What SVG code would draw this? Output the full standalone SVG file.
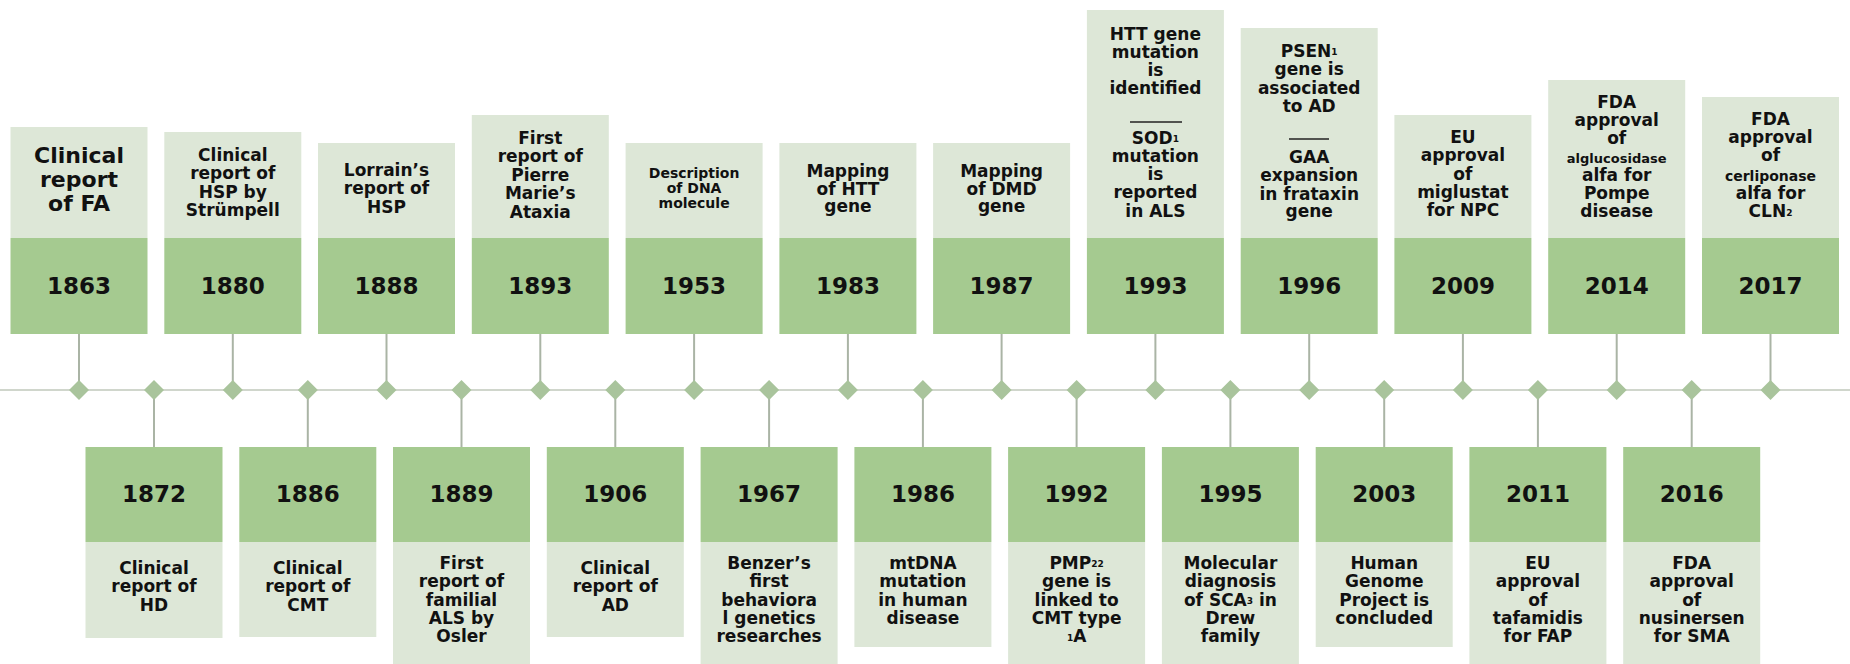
<svg xmlns="http://www.w3.org/2000/svg" width="1850" height="664" viewBox="0 0 1850 664">
<defs>
<style>
.lt{fill:#dde7d7}
.dk{fill:#a5ca90}
.ax{stroke:#d0d6cc;stroke-width:2;fill:none}
.cn{stroke:#aab4a5;stroke-width:2;fill:none}
.dm{fill:#a9c49c}
.rule{stroke:#222;stroke-width:1.6}
text{font-family:"DejaVu Sans","Liberation Sans",sans-serif;font-weight:bold;fill:#111;text-anchor:middle}
.yr{font-size:23px}
.tx{font-size:17px}
.big{font-size:22px}
.sm{font-size:14px}
.xs{font-size:13px}
.sub{font-size:9px}
</style>
<path id="dia" d="M0,-10 L10,0 L0,10 L-10,0 Z"/>
</defs>
<rect width="1850" height="664" fill="#ffffff"/>

<g id="connectors">
<line class="ax" x1="0" y1="390" x2="1850" y2="390"/>
<line class="cn" x1="79" y1="334" x2="79" y2="390"/>
<line class="cn" x1="232.8" y1="334" x2="232.8" y2="390"/>
<line class="cn" x1="386.5" y1="334" x2="386.5" y2="390"/>
<line class="cn" x1="540.3" y1="334" x2="540.3" y2="390"/>
<line class="cn" x1="694.1" y1="334" x2="694.1" y2="390"/>
<line class="cn" x1="847.9" y1="334" x2="847.9" y2="390"/>
<line class="cn" x1="1001.6" y1="334" x2="1001.6" y2="390"/>
<line class="cn" x1="1155.4" y1="334" x2="1155.4" y2="390"/>
<line class="cn" x1="1309.2" y1="334" x2="1309.2" y2="390"/>
<line class="cn" x1="1462.9" y1="334" x2="1462.9" y2="390"/>
<line class="cn" x1="1616.7" y1="334" x2="1616.7" y2="390"/>
<line class="cn" x1="1770.5" y1="334" x2="1770.5" y2="390"/>
<line class="cn" x1="154" y1="390" x2="154" y2="447"/>
<line class="cn" x1="307.8" y1="390" x2="307.8" y2="447"/>
<line class="cn" x1="461.5" y1="390" x2="461.5" y2="447"/>
<line class="cn" x1="615.3" y1="390" x2="615.3" y2="447"/>
<line class="cn" x1="769.1" y1="390" x2="769.1" y2="447"/>
<line class="cn" x1="922.9" y1="390" x2="922.9" y2="447"/>
<line class="cn" x1="1076.6" y1="390" x2="1076.6" y2="447"/>
<line class="cn" x1="1230.4" y1="390" x2="1230.4" y2="447"/>
<line class="cn" x1="1384.2" y1="390" x2="1384.2" y2="447"/>
<line class="cn" x1="1537.9" y1="390" x2="1537.9" y2="447"/>
<line class="cn" x1="1691.7" y1="390" x2="1691.7" y2="447"/>
<use href="#dia" class="dm" x="79" y="390"/>
<use href="#dia" class="dm" x="154" y="390"/>
<use href="#dia" class="dm" x="232.8" y="390"/>
<use href="#dia" class="dm" x="307.8" y="390"/>
<use href="#dia" class="dm" x="386.5" y="390"/>
<use href="#dia" class="dm" x="461.5" y="390"/>
<use href="#dia" class="dm" x="540.3" y="390"/>
<use href="#dia" class="dm" x="615.3" y="390"/>
<use href="#dia" class="dm" x="694.1" y="390"/>
<use href="#dia" class="dm" x="769.1" y="390"/>
<use href="#dia" class="dm" x="847.9" y="390"/>
<use href="#dia" class="dm" x="922.9" y="390"/>
<use href="#dia" class="dm" x="1001.6" y="390"/>
<use href="#dia" class="dm" x="1076.6" y="390"/>
<use href="#dia" class="dm" x="1155.4" y="390"/>
<use href="#dia" class="dm" x="1230.4" y="390"/>
<use href="#dia" class="dm" x="1309.2" y="390"/>
<use href="#dia" class="dm" x="1384.2" y="390"/>
<use href="#dia" class="dm" x="1462.9" y="390"/>
<use href="#dia" class="dm" x="1537.9" y="390"/>
<use href="#dia" class="dm" x="1616.7" y="390"/>
<use href="#dia" class="dm" x="1691.7" y="390"/>
<use href="#dia" class="dm" x="1770.5" y="390"/>
</g>

<!-- Top row -->
<g id="n1863">
<rect class="lt" x="10.5" y="127" width="137" height="111"/>
<rect class="dk" x="10.5" y="238" width="137" height="96"/>
<text class="big"><tspan x="79" y="163">Clinical</tspan><tspan x="79" y="187">report</tspan><tspan x="79" y="211">of FA</tspan></text>
<text class="yr" x="79" y="294">1863</text>
</g>
<g id="n1880">
<rect class="lt" x="164.3" y="132" width="137" height="106"/>
<rect class="dk" x="164.3" y="238" width="137" height="96"/>
<text class="tx"><tspan x="232.8" y="161">Clinical</tspan><tspan x="232.8" y="179.3">report of</tspan><tspan x="232.8" y="197.6">HSP by</tspan><tspan x="232.8" y="216">Strümpell</tspan></text>
<text class="yr" x="232.8" y="294">1880</text>
</g>
<g id="n1888">
<rect class="lt" x="318" y="143" width="137" height="95"/>
<rect class="dk" x="318" y="238" width="137" height="96"/>
<text class="tx"><tspan x="386.5" y="176">Lorrain’s</tspan><tspan x="386.5" y="194.3">report of</tspan><tspan x="386.5" y="212.6">HSP</tspan></text>
<text class="yr" x="386.5" y="294">1888</text>
</g>
<g id="n1893">
<rect class="lt" x="471.8" y="115" width="137" height="123"/>
<rect class="dk" x="471.8" y="238" width="137" height="96"/>
<text class="tx"><tspan x="540.3" y="144">First</tspan><tspan x="540.3" y="162.4">report of</tspan><tspan x="540.3" y="180.8">Pierre</tspan><tspan x="540.3" y="199.2">Marie’s</tspan><tspan x="540.3" y="217.6">Ataxia</tspan></text>
<text class="yr" x="540.3" y="294">1893</text>
</g>
<g id="n1953">
<rect class="lt" x="625.6" y="143" width="137" height="95"/>
<rect class="dk" x="625.6" y="238" width="137" height="96"/>
<text class="sm"><tspan x="694.1" y="178">Description</tspan><tspan x="694.1" y="193">of DNA</tspan><tspan x="694.1" y="208">molecule</tspan></text>
<text class="yr" x="694.1" y="294">1953</text>
</g>
<g id="n1983">
<rect class="lt" x="779.4" y="143" width="137" height="95"/>
<rect class="dk" x="779.4" y="238" width="137" height="96"/>
<text class="tx"><tspan x="847.9" y="177">Mapping</tspan><tspan x="847.9" y="195">of HTT</tspan><tspan x="847.9" y="212">gene</tspan></text>
<text class="yr" x="847.9" y="294">1983</text>
</g>
<g id="n1987">
<rect class="lt" x="933.1" y="143" width="137" height="95"/>
<rect class="dk" x="933.1" y="238" width="137" height="96"/>
<text class="tx"><tspan x="1001.6" y="177">Mapping</tspan><tspan x="1001.6" y="195">of DMD</tspan><tspan x="1001.6" y="212">gene</tspan></text>
<text class="yr" x="1001.6" y="294">1987</text>
</g>
<g id="n1993">
<rect class="lt" x="1086.9" y="10" width="137" height="228"/>
<rect class="dk" x="1086.9" y="238" width="137" height="96"/>
<text class="tx"><tspan x="1155.4" y="39.5">HTT gene</tspan><tspan x="1155.4" y="57.8">mutation</tspan><tspan x="1155.4" y="76">is</tspan><tspan x="1155.4" y="94.4">identified</tspan></text>
<line class="rule" x1="1130" y1="122" x2="1182" y2="122"/>
<text class="tx"><tspan x="1155.4" y="143.5">SOD<tspan class="sub" dy="-2">1</tspan></tspan><tspan x="1155.4" y="161.8">mutation</tspan><tspan x="1155.4" y="180">is</tspan><tspan x="1155.4" y="198.4">reported</tspan><tspan x="1155.4" y="216.7">in ALS</tspan></text>
<text class="yr" x="1155.4" y="294">1993</text>
</g>
<g id="n1996">
<rect class="lt" x="1240.7" y="28" width="137" height="210"/>
<rect class="dk" x="1240.7" y="238" width="137" height="96"/>
<text class="tx"><tspan x="1309.2" y="57">PSEN<tspan class="sub" dy="-2">1</tspan></tspan><tspan x="1309.2" y="75.3">gene is</tspan><tspan x="1309.2" y="93.6">associated</tspan><tspan x="1309.2" y="112">to AD</tspan></text>
<line class="rule" x1="1289" y1="139" x2="1329" y2="139"/>
<text class="tx"><tspan x="1309.2" y="163">GAA</tspan><tspan x="1309.2" y="181.3">expansion</tspan><tspan x="1309.2" y="199.6">in frataxin</tspan><tspan x="1309.2" y="217">gene</tspan></text>
<text class="yr" x="1309.2" y="294">1996</text>
</g>
<g id="n2009">
<rect class="lt" x="1394.4" y="115" width="137" height="123"/>
<rect class="dk" x="1394.4" y="238" width="137" height="96"/>
<text class="tx"><tspan x="1462.9" y="143">EU</tspan><tspan x="1462.9" y="161.3">approval</tspan><tspan x="1462.9" y="179.6">of</tspan><tspan x="1462.9" y="198">miglustat</tspan><tspan x="1462.9" y="216.3">for NPC</tspan></text>
<text class="yr" x="1462.9" y="294">2009</text>
</g>
<g id="n2014">
<rect class="lt" x="1548.2" y="80" width="137" height="158"/>
<rect class="dk" x="1548.2" y="238" width="137" height="96"/>
<text class="tx"><tspan x="1616.7" y="108">FDA</tspan><tspan x="1616.7" y="126">approval</tspan><tspan x="1616.7" y="144">of</tspan><tspan class="xs" x="1616.7" y="162.5">alglucosidase</tspan><tspan x="1616.7" y="181">alfa for</tspan><tspan x="1616.7" y="199">Pompe</tspan><tspan x="1616.7" y="216.5">disease</tspan></text>
<text class="yr" x="1616.7" y="294">2014</text>
</g>
<g id="n2017">
<rect class="lt" x="1702" y="97" width="137" height="141"/>
<rect class="dk" x="1702" y="238" width="137" height="96"/>
<text class="tx"><tspan x="1770.5" y="125">FDA</tspan><tspan x="1770.5" y="143">approval</tspan><tspan x="1770.5" y="161">of</tspan><tspan class="sm" x="1770.5" y="180.5">cerliponase</tspan><tspan x="1770.5" y="199">alfa for</tspan><tspan x="1770.5" y="217">CLN<tspan class="sub" dy="-1">2</tspan></tspan></text>
<text class="yr" x="1770.5" y="294">2017</text>
</g>

<!-- Bottom row -->
<g id="n1872">
<rect class="dk" x="85.5" y="447" width="137" height="95"/>
<rect class="lt" x="85.5" y="542" width="137" height="96"/>
<text class="yr" x="154" y="502">1872</text>
<text class="tx"><tspan x="154" y="574">Clinical</tspan><tspan x="154" y="592.3">report of</tspan><tspan x="154" y="610.6">HD</tspan></text>
</g>
<g id="n1886">
<rect class="dk" x="239.3" y="447" width="137" height="95"/>
<rect class="lt" x="239.3" y="542" width="137" height="95"/>
<text class="yr" x="307.8" y="502">1886</text>
<text class="tx"><tspan x="307.8" y="574">Clinical</tspan><tspan x="307.8" y="592.3">report of</tspan><tspan x="307.8" y="610.6">CMT</tspan></text>
</g>
<g id="n1889">
<rect class="dk" x="393" y="447" width="137" height="95"/>
<rect class="lt" x="393" y="542" width="137" height="122"/>
<text class="yr" x="461.5" y="502">1889</text>
<text class="tx"><tspan x="461.5" y="569">First</tspan><tspan x="461.5" y="587.3">report of</tspan><tspan x="461.5" y="605.6">familial</tspan><tspan x="461.5" y="624">ALS by</tspan><tspan x="461.5" y="642.3">Osler</tspan></text>
</g>
<g id="n1906">
<rect class="dk" x="546.8" y="447" width="137" height="95"/>
<rect class="lt" x="546.8" y="542" width="137" height="95"/>
<text class="yr" x="615.3" y="502">1906</text>
<text class="tx"><tspan x="615.3" y="574">Clinical</tspan><tspan x="615.3" y="592.3">report of</tspan><tspan x="615.3" y="610.6">AD</tspan></text>
</g>
<g id="n1967">
<rect class="dk" x="700.6" y="447" width="137" height="95"/>
<rect class="lt" x="700.6" y="542" width="137" height="122"/>
<text class="yr" x="769.1" y="502">1967</text>
<text class="tx"><tspan x="769.1" y="569">Benzer’s</tspan><tspan x="769.1" y="587.3">first</tspan><tspan x="769.1" y="605.6">behaviora</tspan><tspan x="769.1" y="624">l genetics</tspan><tspan x="769.1" y="642.3">researches</tspan></text>
</g>
<g id="n1986">
<rect class="dk" x="854.4" y="447" width="137" height="95"/>
<rect class="lt" x="854.4" y="542" width="137" height="105"/>
<text class="yr" x="922.9" y="502">1986</text>
<text class="tx"><tspan x="922.9" y="569">mtDNA</tspan><tspan x="922.9" y="587.3">mutation</tspan><tspan x="922.9" y="605.6">in human</tspan><tspan x="922.9" y="624">disease</tspan></text>
</g>
<g id="n1992">
<rect class="dk" x="1008.1" y="447" width="137" height="95"/>
<rect class="lt" x="1008.1" y="542" width="137" height="122"/>
<text class="yr" x="1076.6" y="502">1992</text>
<text class="tx"><tspan x="1076.6" y="569">PMP<tspan class="sub" dy="-2">22</tspan></tspan><tspan x="1076.6" y="587.3">gene is</tspan><tspan x="1076.6" y="605.6">linked to</tspan><tspan x="1076.6" y="624">CMT type</tspan><tspan x="1076.6" y="642.3"><tspan class="sub" dy="-1">1</tspan><tspan dy="1">A</tspan></tspan></text>
</g>
<g id="n1995">
<rect class="dk" x="1161.9" y="447" width="137" height="95"/>
<rect class="lt" x="1161.9" y="542" width="137" height="122"/>
<text class="yr" x="1230.4" y="502">1995</text>
<text class="tx"><tspan x="1230.4" y="569">Molecular</tspan><tspan x="1230.4" y="587.3">diagnosis</tspan><tspan x="1230.4" y="605.6">of SCA<tspan class="sub" dy="-2">3</tspan><tspan dy="2"> in</tspan></tspan><tspan x="1230.4" y="624">Drew</tspan><tspan x="1230.4" y="642.3">family</tspan></text>
</g>
<g id="n2003">
<rect class="dk" x="1315.7" y="447" width="137" height="95"/>
<rect class="lt" x="1315.7" y="542" width="137" height="105"/>
<text class="yr" x="1384.2" y="502">2003</text>
<text class="tx"><tspan x="1384.2" y="569">Human</tspan><tspan x="1384.2" y="587.3">Genome</tspan><tspan x="1384.2" y="605.6">Project is</tspan><tspan x="1384.2" y="624">concluded</tspan></text>
</g>
<g id="n2011">
<rect class="dk" x="1469.4" y="447" width="137" height="95"/>
<rect class="lt" x="1469.4" y="542" width="137" height="122"/>
<text class="yr" x="1537.9" y="502">2011</text>
<text class="tx"><tspan x="1537.9" y="569">EU</tspan><tspan x="1537.9" y="587.3">approval</tspan><tspan x="1537.9" y="605.6">of</tspan><tspan x="1537.9" y="624">tafamidis</tspan><tspan x="1537.9" y="642.3">for FAP</tspan></text>
</g>
<g id="n2016">
<rect class="dk" x="1623.2" y="447" width="137" height="95"/>
<rect class="lt" x="1623.2" y="542" width="137" height="122"/>
<text class="yr" x="1691.7" y="502">2016</text>
<text class="tx"><tspan x="1691.7" y="569">FDA</tspan><tspan x="1691.7" y="587.3">approval</tspan><tspan x="1691.7" y="605.6">of</tspan><tspan x="1691.7" y="624">nusinersen</tspan><tspan x="1691.7" y="642.3">for SMA</tspan></text>
</g>
</svg>
